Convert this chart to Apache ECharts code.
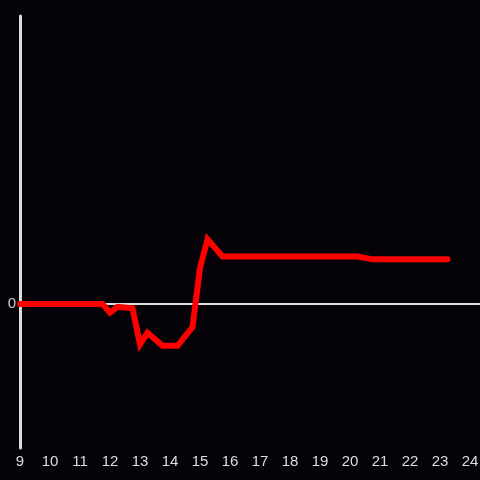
<!DOCTYPE html>
<html><head><meta charset="utf-8">
<script src="https://cdn.jsdelivr.net/npm/echarts@6/dist/echarts.min.js"></script>
<style>html,body{margin:0;padding:0;background:#050307}#c{width:480px;height:480px}</style>
</head><body><div id="c"></div>
<script>
var times = [9, 11.75, 12.0, 12.25, 12.75, 13.0, 13.25, 13.75, 14.25, 14.75, 15.0, 15.25, 15.75, 20.25, 20.75, 23.25];
var values = [0, 0, -6, -2, -3, -28, -20, -29, -29, -16, 25, 45, 33, 33, 31, 31];
var xTicks = [9,10,11,12,13,14,15,16,17,18,19,20,21,22,23,24];
var data = times.map(function(t,i){return [t, values[i]];});
var chart = echarts.init(document.getElementById('c'));
chart.setOption({
  backgroundColor: '#050307',
  animation: false,
  grid: {left: 20, right: 0, top: 16, bottom: 32, outerBoundsMode: 'none', containLabel: false},
  xAxis: {
    type: 'value', min: 9, max: 24 + 1/3, interval: 1,
    axisLine: {show: false, onZero: false},
    axisTick: {show: false}, splitLine: {show: false},
    axisLabel: {color: '#dddddd', fontSize: 15, margin: 6, hideOverlap: false,
      formatter: function(v){ return xTicks.indexOf(v) >= 0 ? String(v) : ''; }}
  },
  yAxis: {
    type: 'value', min: -100, max: 200, interval: 100,
    axisLine: {show: true, lineStyle: {color: '#dddddd', width: 3}},
    axisTick: {show: false}, splitLine: {show: false},
    axisLabel: {color: '#cccccc', fontSize: 15, margin: 4,
      formatter: function(v){ return v === 0 ? '0' : ''; }}
  },
  series: [{
    type: 'line', data: data, symbol: 'none',
    lineStyle: {color: '#ff0000', width: 6, cap: 'round', join: 'miter'},
    markLine: {silent: true, symbol: 'none', label: {show: false},
      lineStyle: {color: '#dddddd', width: 2, type: 'solid'},
      data: [{yAxis: 0}], z: 1},
    z: 3
  }]
});
</script></body></html>
